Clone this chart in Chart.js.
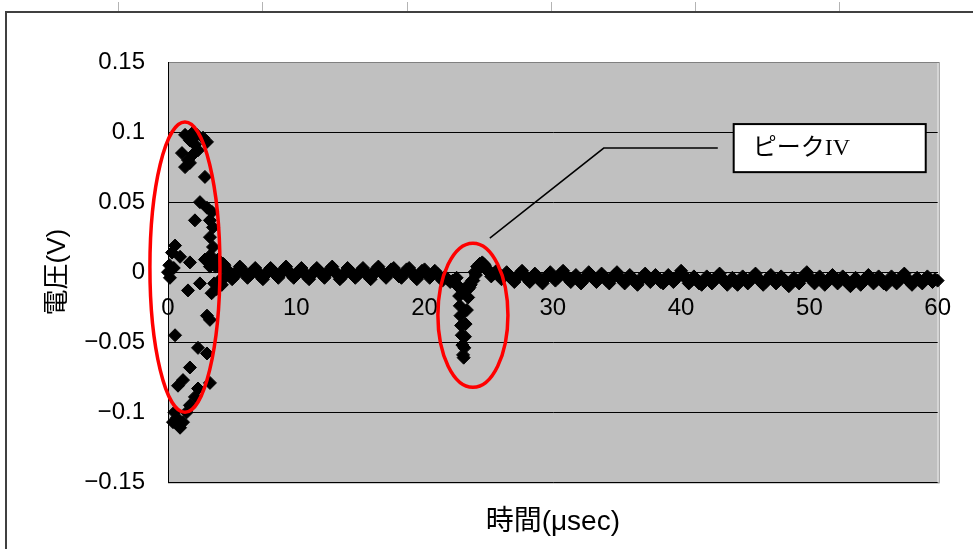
<!DOCTYPE html>
<html lang="ja">
<head>
<meta charset="utf-8">
<title>電圧波形</title>
<script src="https://cdn.jsdelivr.net/npm/chart.js@4.4.1/dist/chart.umd.min.js"></script>
<style>
  html, body { margin: 0; padding: 0; background: #fff; }
  canvas { display: block; }
</style>
</head>
<body>
<canvas id="chart" width="973" height="549"></canvas>
<script>
// 立ち上がり直後の振動 (時間 µsec / 電圧 V)
const burstTime = [
  0.00, 0.10, 0.15, 0.31, 0.39, 0.45, 0.50, 0.55, 0.55, 0.70,
  0.78, 0.94, 0.94, 1.09, 1.17, 1.17, 1.33, 1.33, 1.45, 1.56,
  1.56, 1.71, 1.71, 1.71, 1.71, 1.71, 1.87, 1.95, 2.10, 2.10,
  2.10, 2.26, 2.34, 2.34, 2.34, 2.49, 2.49, 2.73, 2.88, 2.88,
  3.04, 3.04, 3.04, 3.04, 3.27, 3.27, 3.27, 3.27, 3.27, 3.30,
  3.40, 3.43, 3.51, 3.51, 3.50, 3.60, 3.70, 3.80, 3.90, 4.00,
  4.10, 4.20, 4.30, 4.40
];
const burstVolt = [
  0.000, 0.005, -0.004, 0.014, -0.107, 0.003, -0.100, 0.019, -0.045, -0.104,
  -0.081, 0.011, -0.111, 0.085, -0.077, -0.107, 0.098, 0.075, -0.100, 0.080,
  -0.013, 0.094, 0.078, 0.007, -0.068, -0.095, 0.099, 0.084, 0.091, 0.037,
  -0.089, 0.098, 0.087, -0.054, -0.083, 0.050, -0.008, 0.096, 0.068, 0.009,
  0.093, 0.046, -0.031, -0.058, 0.037, 0.025, 0.004, -0.034, -0.079, 0.012,
  -0.015, 0.043, 0.032, 0.018, 0.006, -0.008, 0.004, -0.012, 0.009, -0.006,
  0.003, -0.009, 0.006, -0.004
];

// 4.4µsec 以降は 0.2µsec 刻みのサンプル (1行 = 2µsec)
const traceStart = 4.4;
const traceStep = 0.2;
const traceVolt = [
  0.005, 0.002, -0.002, -0.005, -0.003, 0.001, 0.004, 0.002, -0.001, -0.004,
  -0.002, 0.001, 0.003, 0.000, -0.003, -0.005, -0.002, 0.001, 0.003, 0.001,
  -0.002, -0.004, -0.001, 0.002, 0.004, 0.001, -0.002, -0.004, -0.002, 0.001,
  0.003, 0.000, -0.003, -0.005, -0.002, 0.001, 0.003, 0.001, -0.002, -0.004,
  -0.001, 0.002, 0.004, 0.001, -0.002, -0.005, -0.003, 0.000, 0.003, 0.001,
  -0.002, -0.004, -0.002, 0.001, 0.003, 0.000, -0.003, -0.005, -0.002, 0.002,
  0.004, 0.001, -0.002, -0.004, -0.001, 0.002, 0.003, 0.000, -0.003, -0.004,
  -0.001, 0.002, 0.003, 0.000, -0.003, -0.005, -0.002, 0.001, 0.002, -0.001,
  -0.004, -0.002, 0.001, -0.001, -0.004, -0.006, -0.003, -0.005, -0.007, -0.006,
  -0.008, -0.010, -0.012, -0.013, -0.011, -0.012, -0.009, -0.006, -0.002, 0.002,
  0.005, 0.006, 0.003, 0.000, -0.003, -0.001, 0.001, -0.002, -0.005, -0.003,
  0.000, -0.002, -0.005, -0.007, -0.004, -0.001, 0.001, -0.002, -0.005, -0.007,
  -0.004, -0.001, -0.003, -0.006, -0.008, -0.005, -0.002, 0.000, -0.003, -0.006,
  -0.004, -0.001, 0.001, -0.002, -0.005, -0.007, -0.004, -0.002, -0.005, -0.008,
  -0.006, -0.003, 0.000, -0.002, -0.005, -0.007, -0.004, -0.001, -0.003, -0.006,
  -0.008, -0.005, -0.002, 0.000, -0.003, -0.006, -0.008, -0.005, -0.002, -0.004,
  -0.007, -0.009, -0.006, -0.003, -0.001, -0.004, -0.007, -0.005, -0.002, -0.004,
  -0.007, -0.008, -0.005, -0.002, -0.004, -0.007, -0.005, -0.002, 0.001, -0.002,
  -0.005, -0.008, -0.006, -0.003, -0.005, -0.008, -0.009, -0.006, -0.003, -0.005,
  -0.008, -0.006, -0.003, -0.001, -0.004, -0.007, -0.009, -0.006, -0.004, -0.007,
  -0.009, -0.006, -0.003, -0.005, -0.008, -0.006, -0.003, -0.001, -0.004, -0.007,
  -0.009, -0.007, -0.004, -0.002, -0.005, -0.008, -0.006, -0.003, -0.005, -0.008,
  -0.010, -0.007, -0.004, -0.006, -0.008, -0.005, -0.002, 0.000, -0.003, -0.006,
  -0.008, -0.005, -0.003, -0.006, -0.009, -0.007, -0.004, -0.002, -0.005, -0.008,
  -0.006, -0.003, -0.005, -0.008, -0.010, -0.007, -0.004, -0.006, -0.009, -0.007,
  -0.004, -0.002, -0.005, -0.008, -0.006, -0.003, -0.005, -0.008, -0.009, -0.006,
  -0.003, -0.005, -0.008, -0.006, -0.003, -0.001, -0.004, -0.007, -0.009, -0.006,
  -0.004, -0.006, -0.008, -0.005, -0.003, -0.005, -0.007, -0.005, -0.006
];

// ピークIV 付近
const dipTime = [
  22.50, 22.65, 22.70, 22.75, 22.80, 22.85, 22.90, 22.95, 23.00, 23.05,
  23.10, 23.15, 23.20, 23.30, 23.40, 23.50, 23.70, 23.90, 24.10, 24.30,
  24.50, 24.70, 24.90
];
const dipVolt = [
  -0.004, -0.010, -0.017, -0.024, -0.031, -0.038, -0.045, -0.052, -0.059, -0.061,
  -0.054, -0.046, -0.037, -0.027, -0.018, -0.011, -0.006, 0.000, 0.004, 0.006,
  0.007, 0.005, 0.002
];

const xTickValues = [0, 10, 20, 30, 40, 50, 60];
const yTickValues = [-0.15, -0.1, -0.05, 0, 0.05, 0.1, 0.15];

const FONT = '"Liberation Sans", "Noto Sans CJK JP", sans-serif';

const pts = (xs, ys) => xs.map((x, i) => ({ x: x, y: ys[i] }));
const traceData = traceVolt.map((v, i) => ({ x: traceStart + i * traceStep, y: v }));

const marker = {
  showLine: false,
  pointStyle: 'rectRot',
  pointRadius: 6.5,
  backgroundColor: '#000',
  borderColor: '#000',
  borderWidth: 1,
  clip: false
};

// シート枠と灰色のプロットエリア
const sheetFrame = {
  id: 'sheetFrame',
  beforeDraw(chart) {
    const { ctx, chartArea: a } = chart;
    ctx.save();
    ctx.fillStyle = '#fff';
    ctx.fillRect(0, 0, chart.width, chart.height);
    ctx.strokeStyle = '#b4b4b4';
    ctx.lineWidth = 1;
    for (const cx of [118, 262, 407, 551, 695, 839]) {
      ctx.beginPath();
      ctx.moveTo(cx + 0.5, 2);
      ctx.lineTo(cx + 0.5, 11);
      ctx.stroke();
    }
    ctx.strokeStyle = '#404040';
    ctx.lineWidth = 2;
    ctx.beginPath();
    ctx.moveTo(chart.width, 12);
    ctx.lineTo(6, 12);
    ctx.lineTo(6, chart.height);
    ctx.stroke();
    ctx.fillStyle = '#c0c0c0';
    ctx.fillRect(a.left, a.top, a.width, a.height);
    ctx.strokeStyle = '#808080';
    ctx.lineWidth = 1;
    ctx.strokeRect(a.left + 0.5, a.top + 0.5, a.width + 1, a.height);
    ctx.restore();
  }
};

// 赤丸と吹き出し (位置はデータ座標で指定)
const rings = [
  { t: 1.32, v: 0.0036, dt: 2.73, dv: 0.1036 },
  { t: 23.77, v: -0.0307, dt: 2.73, dv: 0.0514 }
];
const leader = [[42.86, 0.0886], [33.97, 0.0886], [25.09, 0.0243]];
const labelBox = { t0: 44.1, t1: 59.07, v0: 0.1057, v1: 0.0714, text: 'ピークIV' };

const callouts = {
  id: 'callouts',
  afterDatasetsDraw(chart) {
    const { ctx, scales: { x, y } } = chart;
    ctx.save();
    ctx.strokeStyle = '#ff0000';
    ctx.lineWidth = 3.5;
    for (const r of rings) {
      const cx = x.getPixelForValue(r.t);
      const cy = y.getPixelForValue(r.v);
      const rx = x.getPixelForValue(r.t + r.dt) - cx;
      const ry = cy - y.getPixelForValue(r.v + r.dv);
      ctx.beginPath();
      ctx.ellipse(cx, cy, rx, ry, 0, 0, Math.PI * 2);
      ctx.stroke();
    }

    ctx.strokeStyle = '#000';
    ctx.lineWidth = 1.5;
    ctx.beginPath();
    leader.forEach(([t, v], i) => {
      const px = x.getPixelForValue(t), py = y.getPixelForValue(v);
      if (i === 0) ctx.moveTo(px, py); else ctx.lineTo(px, py);
    });
    ctx.stroke();

    const bx = x.getPixelForValue(labelBox.t0);
    const by = y.getPixelForValue(labelBox.v0);
    const bw = x.getPixelForValue(labelBox.t1) - bx;
    const bh = y.getPixelForValue(labelBox.v1) - by;
    ctx.fillStyle = '#fff';
    ctx.fillRect(bx, by, bw, bh);
    ctx.lineWidth = 2;
    ctx.strokeRect(bx, by, bw, bh);
    ctx.fillStyle = '#000';
    ctx.font = '24px "Liberation Serif", "Noto Sans CJK JP", serif';
    ctx.textBaseline = 'middle';
    ctx.fillText(labelBox.text, bx + 19, by + bh / 2 + 1);
    ctx.restore();
  }
};

new Chart(document.getElementById('chart'), {
  type: 'scatter',
  data: {
    datasets: [
      { label: 'burst', data: pts(burstTime, burstVolt), ...marker },
      { label: 'trace', data: traceData, ...marker },
      { label: 'dip', data: pts(dipTime, dipVolt), ...marker }
    ]
  },
  options: {
    responsive: false,
    animation: false,
    events: [],
    layout: { padding: { left: 0, top: 62, right: 35, bottom: 10 } },
    plugins: {
      legend: { display: false },
      tooltip: { enabled: false },
      title: {
        display: true,
        position: 'bottom',
        fullSize: false,
        text: '時間(μsec)',
        color: '#000',
        font: { family: FONT, size: 28, weight: 'normal' },
        padding: { top: 23, bottom: 0 }
      }
    },
    scales: {
      x: {
        type: 'linear',
        min: 0,
        max: 60,
        position: { y: 0 },
        afterBuildTicks: s => { s.ticks = xTickValues.map(v => ({ value: v })); },
        grid: { display: true, drawOnChartArea: false, drawTicks: false },
        border: { display: true, color: '#000', width: 1 },
        ticks: {
          padding: 22,
          maxRotation: 0,
          autoSkip: false,
          color: '#000',
          font: { family: FONT, size: 24 }
        }
      },
      y: {
        type: 'linear',
        min: -0.15,
        max: 0.15,
        afterBuildTicks: s => { s.ticks = yTickValues.map(v => ({ value: v })); },
        afterFit: s => { s.width = 168; },
        grid: {
          color: c => (c.tick && c.tick.value > 0.14 ? '#808080' : '#000'),
          lineWidth: 1,
          drawTicks: false
        },
        border: { display: true, color: '#000', width: 1 },
        ticks: {
          padding: 23,
          color: '#000',
          font: { family: FONT, size: 24 },
          callback: v => {
            const r = Math.round(v * 100) / 100;
            return r === 0 ? '0' : String(r).replace('-', '\u2212');
          }
        },
        title: {
          display: true,
          text: '電圧(V)',
          color: '#000',
          font: { family: FONT, size: 26, weight: 'normal' },
          padding: { top: 42, bottom: 0 }
        }
      }
    }
  },
  plugins: [sheetFrame, callouts]
});
</script>
</body>
</html>
